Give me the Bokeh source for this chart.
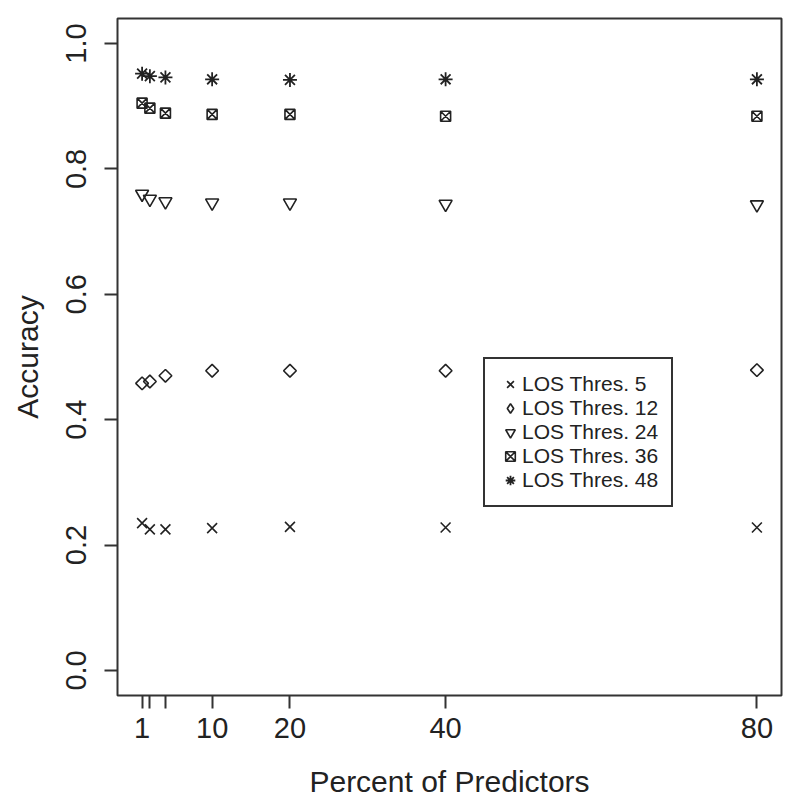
import math
from bokeh.plotting import figure
from bokeh.models import Range1d, FixedTicker, Legend, LegendItem
from bokeh.embed import file_html
from bokeh.resources import INLINE

# ---- data ----
pct = [1, 2, 4, 10, 20, 40, 80]
acc_5 = [0.235, 0.225, 0.225, 0.227, 0.229, 0.228, 0.228]
acc_12 = [0.458, 0.461, 0.470, 0.478, 0.478, 0.478, 0.479]
acc_24 = [0.760, 0.752, 0.748, 0.746, 0.746, 0.744, 0.743]
acc_36 = [0.905, 0.897, 0.889, 0.887, 0.887, 0.884, 0.884]
acc_48 = [0.952, 0.948, 0.946, 0.943, 0.942, 0.943, 0.943]
series_labels = ["LOS Thres. 5", "LOS Thres. 12", "LOS Thres. 24", "LOS Thres. 36", "LOS Thres. 48"]
x_ticks = [1, 2, 4, 10, 20, 40, 80]
x_tick_labels = ["1", "", "", "10", "20", "40", "80"]
y_ticks = [0.0, 0.2, 0.4, 0.6, 0.8, 1.0]

FONT = "Liberation Sans"
INK = "#222222"

p = figure(width=784, height=800, output_backend="svg", toolbar_location=None,
           x_range=Range1d(-2.16, 83.16), y_range=Range1d(-0.04, 1.04),
           min_border_left=117, min_border_top=18, min_border_right=3, min_border_bottom=103)
p.background_fill_color = "white"
p.border_fill_color = "white"
p.outline_line_color = "#333333"
p.outline_line_width = 2
p.xgrid.visible = False
p.ygrid.visible = False

r5 = p.scatter(pct, acc_5, marker="x", size=14, line_color=INK, line_width=1.6)
r12 = p.scatter(pct, acc_12, marker="square", angle=math.pi / 4, size=9,
                line_color=INK, fill_color=None, line_width=1.6)
r24 = p.scatter(pct, acc_24, marker="inverted_triangle", size=13,
                line_color=INK, fill_color=None, line_width=1.6)
r36 = p.scatter(pct, acc_36, marker="square_x", size=10,
                line_color=INK, fill_color=None, line_width=1.6)
r48 = p.scatter(pct, acc_48, marker="asterisk", size=14, line_color=INK, line_width=1.8)

# legend-only stand-in for the rotated-square (diamond) symbol
r12_key = p.scatter(pct, acc_12, marker="diamond", size=9, line_color=INK,
                    fill_color=None, line_width=1.6, visible=False)

# axes
for ax in (p.xaxis[0], p.yaxis[0]):
    ax.axis_line_color = None
    ax.major_tick_in = 0
    ax.major_tick_out = 13
    ax.major_tick_line_color = "#333333"
    ax.major_tick_line_width = 2
    ax.minor_tick_line_color = None
    ax.major_label_text_font = FONT
    ax.major_label_text_font_size = "29px"
    ax.major_label_text_color = INK
    ax.axis_label_text_font = FONT
    ax.axis_label_text_font_size = "30px"
    ax.axis_label_text_font_style = "normal"
    ax.axis_label_text_color = INK

p.xaxis.ticker = FixedTicker(ticks=x_ticks)
p.xaxis.major_label_overrides = {t: lab for t, lab in zip(x_ticks, x_tick_labels)}
p.xaxis.axis_label = "Percent of Predictors"
p.xaxis.major_label_standoff = 9
p.xaxis.axis_label_standoff = 24

p.yaxis.ticker = FixedTicker(ticks=y_ticks)
p.yaxis.major_label_overrides = {t: f"{t:.1f}" for t in y_ticks}
p.yaxis.major_label_orientation = "parallel"
p.yaxis.axis_label = "Accuracy"
p.yaxis.major_label_standoff = 18
p.yaxis.axis_label_standoff = 20

legend = Legend(items=[LegendItem(label=lab, renderers=[r])
                       for lab, r in zip(series_labels, [r5, r12_key, r24, r36, r48])],
                location=(366, 188))
legend.label_text_font = FONT
legend.label_text_font_size = "21px"
legend.label_text_color = INK
legend.border_line_color = "#333333"
legend.border_line_alpha = 1.0
legend.border_line_width = 2
legend.padding = 13
legend.spacing = 0
legend.glyph_height = 24
legend.label_height = 24
legend.glyph_width = 24
legend.label_standoff = 0
legend.margin = 0
legend.background_fill_alpha = 1.0
p.add_layout(legend, "center")

open("out.html", "w").write(file_html(p, INLINE))
